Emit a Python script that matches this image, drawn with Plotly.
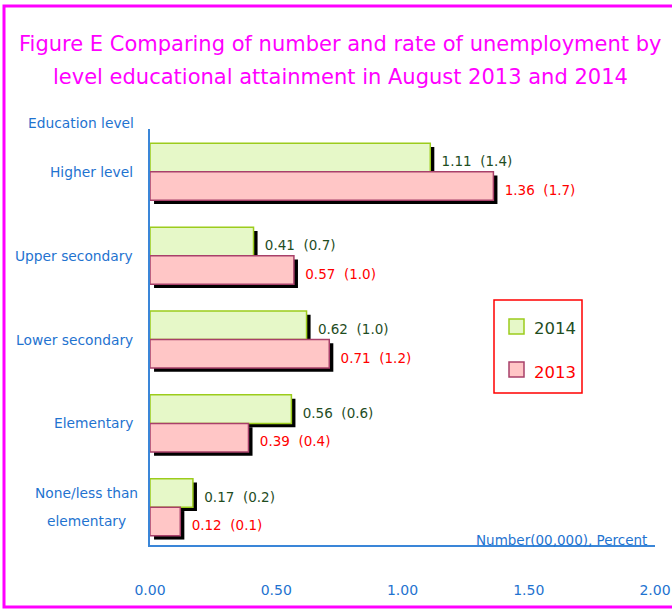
import plotly.graph_objects as go

categories = ["Higher level", "Upper secondary", "Lower secondary", "Elementary", "None/less than<br>elementary"]
number_2014 = [1.11, 0.41, 0.62, 0.56, 0.17]
rate_2014 = [1.4, 0.7, 1.0, 0.6, 0.2]
number_2013 = [1.36, 0.57, 0.71, 0.39, 0.12]
rate_2013 = [1.7, 1.0, 1.2, 0.4, 0.1]
x_ticks = [0.0, 0.5, 1.0, 1.5, 2.0]
series_names = ["2014", "2013"]

FONT = "Tahoma, Verdana, DejaVu Sans"
BLUE = "#1f73d0"
MAGENTA = "#ff00ff"
GREEN_TXT = "#1f4d1f"
RED_TXT = "#ff0000"
FILL_2014, LINE_2014 = "#e6f8c8", "#9ccc1c"
FILL_2013, LINE_2013 = "#ffc6c6", "#a8406a"

n = len(categories)
ypos = [n - 1 - i for i in range(n)]  # top to bottom
half = 0.17
sx = 0.016  # shadow offset in x units
sy = 0.045  # shadow offset in y units

def label(num, rate):
    return f"\u00a0{num:.2f}\u00a0\u00a0({rate:.1f})"

fig = go.Figure()
# shadows (carry the value labels)
fig.add_trace(go.Bar(
    y=[p + half - sy for p in ypos], x=number_2014, base=sx, orientation="h", width=2 * half,
    marker=dict(color="black", line=dict(width=0)), showlegend=False, hoverinfo="skip",
    text=[label(a, b) for a, b in zip(number_2014, rate_2014)], textposition="outside",
    textfont=dict(color=GREEN_TXT, size=13.5, family=FONT), cliponaxis=False, constraintext="none"))
fig.add_trace(go.Bar(
    y=[p - half - sy for p in ypos], x=number_2013, base=sx, orientation="h", width=2 * half,
    marker=dict(color="black", line=dict(width=0)), showlegend=False, hoverinfo="skip",
    text=[label(a, b) for a, b in zip(number_2013, rate_2013)], textposition="outside",
    textfont=dict(color=RED_TXT, size=13.5, family=FONT), cliponaxis=False, constraintext="none"))
# main bars
fig.add_trace(go.Bar(
    y=[p + half for p in ypos], x=number_2014, orientation="h", width=2 * half,
    name=series_names[0], showlegend=False,
    marker=dict(color=FILL_2014, line=dict(color=LINE_2014, width=1.5))))
fig.add_trace(go.Bar(
    y=[p - half for p in ypos], x=number_2013, orientation="h", width=2 * half,
    name=series_names[1], showlegend=False,
    marker=dict(color=FILL_2013, line=dict(color=LINE_2013, width=1.5))))

L, R, T, B = 150, 17, 129, 67
W, H = 672, 612
pw, ph = W - L - R, H - T - B
def px(x):
    return (x - L) / pw
def py(y):
    return (H - B - y) / ph

annotations = []
for cat, p in zip(categories, ypos):
    lines = cat.split("<br>")
    if len(lines) == 1:
        annotations.append(dict(x=px(135), y=p, xref="paper", yref="y", text=cat, showarrow=False,
                                xanchor="right", yanchor="middle",
                                font=dict(family=FONT, size=13.8, color=BLUE)))
    else:
        for k, ln in enumerate(lines):
            annotations.append(dict(x=px(86), y=p + 0.167 * (1 - 2 * k), xref="paper", yref="y", text=ln,
                                    showarrow=False, xanchor="center", yanchor="middle",
                                    font=dict(family=FONT, size=13.8, color=BLUE)))
annotations += [
    dict(x=px(340), y=py(44), xref="paper", yref="paper", showarrow=False, xanchor="center", yanchor="middle",
         text="Figure E Comparing of number and rate of unemployment by",
         font=dict(family=FONT, size=21, color=MAGENTA)),
    dict(x=px(340), y=py(77), xref="paper", yref="paper", showarrow=False, xanchor="center", yanchor="middle",
         text="level educational attainment in August 2013 and 2014",
         font=dict(family=FONT, size=21, color=MAGENTA)),
    dict(x=px(136), y=py(123), xref="paper", yref="paper", showarrow=False, xanchor="right", yanchor="middle",
         text="Education level", font=dict(family=FONT, size=13.8, color=BLUE)),
    dict(x=px(649), y=py(540), xref="paper", yref="paper", showarrow=False, xanchor="right", yanchor="middle",
         text="Number(00,000), Percent", font=dict(family=FONT, size=13.5, color=BLUE)),
]

# manual legend
shapes = [
    dict(type="rect", xref="paper", yref="paper", x0=px(494), x1=px(582), y0=py(393), y1=py(300),
         line=dict(color="#ff0000", width=1.5), fillcolor="white", layer="above"),
    dict(type="rect", xref="paper", yref="paper", x0=px(509), x1=px(524), y0=py(334), y1=py(319),
         line=dict(color=LINE_2014, width=1.5), fillcolor=FILL_2014, layer="above"),
    dict(type="rect", xref="paper", yref="paper", x0=px(509), x1=px(524), y0=py(377), y1=py(362),
         line=dict(color=LINE_2013, width=1.5), fillcolor=FILL_2013, layer="above"),
    dict(type="rect", xref="paper", yref="paper", x0=px(4), x1=px(676), y0=py(607), y1=py(6),
         line=dict(color=MAGENTA, width=3), layer="above"),
]
annotations += [
    dict(x=px(532), y=py(328), xref="paper", yref="paper", showarrow=False, xanchor="left", yanchor="middle",
         text=series_names[0], font=dict(family=FONT, size=16.5, color=GREEN_TXT)),
    dict(x=px(532), y=py(372), xref="paper", yref="paper", showarrow=False, xanchor="left", yanchor="middle",
         text=series_names[1], font=dict(family=FONT, size=16.5, color=RED_TXT)),
]

fig.update_layout(
    width=W, height=H, margin=dict(l=L, r=R, t=T, b=B, autoexpand=False),
    paper_bgcolor="white", plot_bgcolor="white",
    barmode="overlay",
    font=dict(family=FONT, color=BLUE),
    xaxis=dict(range=[0, 2.0], tickvals=x_ticks, ticktext=[f"{v:.2f}" for v in x_ticks],
               showgrid=False, zeroline=False, showline=True, linecolor="#3a86d8", linewidth=1.5,
               ticks="", ticklabelstandoff=31, automargin=False,
               tickfont=dict(size=14, color=BLUE, family=FONT)),
    yaxis=dict(range=[-0.45, 4.51], showticklabels=False, showgrid=False, zeroline=False,
               showline=True, linecolor="#3a86d8", linewidth=1.5, ticks="", automargin=False),
    annotations=annotations,
    shapes=shapes,
    showlegend=False,
)

fig.write_html("out.html")
